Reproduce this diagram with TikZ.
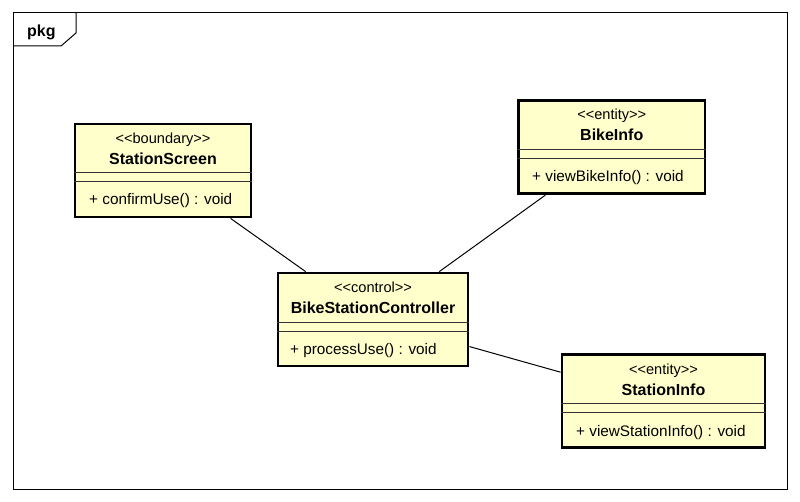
\documentclass[tikz,border=0pt]{standalone}
\usepackage{fontspec}
\setmainfont{Liberation Sans}
\definecolor{classfill}{HTML}{FFFFCC}
\newcommand{\stl}{<\kern0pt<}
\newcommand{\stg}{>\kern0pt>}
\begin{document}
\begin{tikzpicture}[x=1pt,y=-1pt,
  cls/.style={draw, line width=2.8pt, fill=classfill, inner sep=0pt, minimum height=93},
  sepline/.style={line width=1pt, black!80},
  stereo/.style={anchor=base, inner sep=0pt, font=\fontsize{14.6}{17}\selectfont},
  clsname/.style={anchor=base, inner sep=0pt, font=\fontsize{16}{19}\selectfont\bfseries},
  oper/.style={anchor=base west, inner sep=0pt, font=\fontsize{15.3}{18}\selectfont},
  assoc/.style={line width=1pt}]
\useasboundingbox (0,0) rectangle (800,502);
\draw[line width=1pt] (13,13) rectangle (787,489);
\draw[line width=1pt] (13,46) -- (61,46) -- (76,33) -- (76,13);
\node[anchor=base west, inner sep=0pt, font=\fontsize{16}{19}\selectfont\bfseries] (pkg) at (27,37) {pkg};

\node[cls, minimum width=176] (screen) at (163,170.5){};
\draw[sepline] (screen.west |- 0,173) -- (screen.east |- 0,173);
\draw[sepline] (screen.west |- 0,182) -- (screen.east |- 0,182);
\node[stereo] (screen-st) at (163,144){\stl boundary\stg};
\node[clsname] (screen-nm) at (163,165){StationScreen};
\node[oper] (screen-op) at (89,205){+ confirmUse() : void};

\node[cls, minimum width=190] (ctrl) at (373,319.5){};
\draw[sepline] (ctrl.west |- 0,322.5) -- (ctrl.east |- 0,322.5);
\draw[sepline] (ctrl.west |- 0,331.5) -- (ctrl.east |- 0,331.5);
\node[stereo] (ctrl-st) at (373,293){\stl control\stg};
\node[clsname] (ctrl-nm) at (373,314){BikeStationController};
\node[oper] (ctrl-op) at (290,354){+ processUse() : void};

\node[cls, minimum width=186.5] (bike) at (611.75,147.25){};
\draw[sepline] (bike.west |- 0,149.5) -- (bike.east |- 0,149.5);
\draw[sepline] (bike.west |- 0,158.5) -- (bike.east |- 0,158.5);
\node[stereo] (bike-st) at (611.75,120){\stl entity\stg};
\node[clsname] (bike-nm) at (611.75,141){BikeInfo};
\node[oper] (bike-op) at (532,182){+ viewBikeInfo() : void};

\node[cls, minimum width=203] (stinfo) at (663.5,401){};
\draw[sepline] (stinfo.west |- 0,403.5) -- (stinfo.east |- 0,403.5);
\draw[sepline] (stinfo.west |- 0,412.5) -- (stinfo.east |- 0,412.5);
\node[stereo] (stinfo-st) at (663.5,374){\stl entity\stg};
\node[clsname] (stinfo-nm) at (663.5,395){StationInfo};
\node[oper] (stinfo-op) at (576,436){+ viewStationInfo() : void};

\draw[assoc] (screen) -- (ctrl);
\draw[assoc] (bike) -- (ctrl);
\draw[assoc] (ctrl) -- (stinfo);

\end{tikzpicture}
\end{document}
